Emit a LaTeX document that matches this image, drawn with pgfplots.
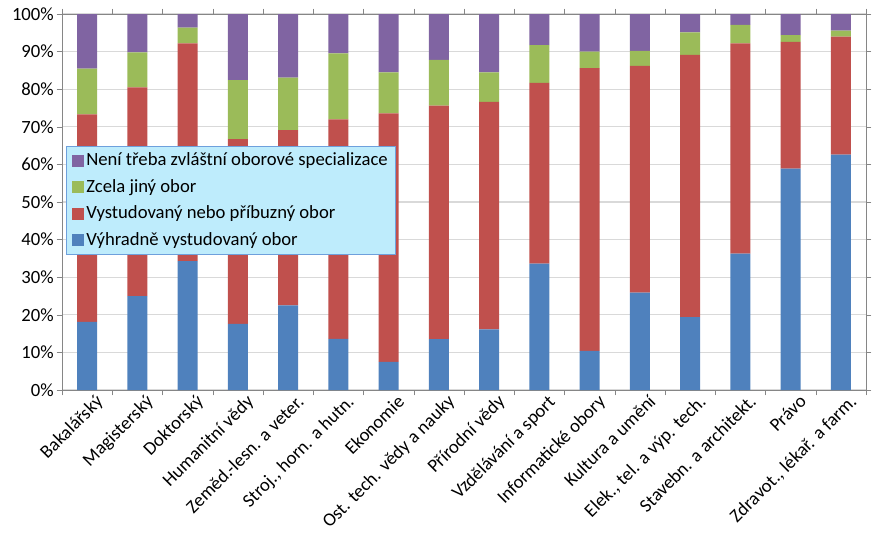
\documentclass[border=0pt]{standalone}
\usepackage{pgfplots}
\usepackage{pgfplotstable}
\pgfplotsset{compat=1.18}
\usepackage{fontspec}
\setmainfont{Carlito}
\definecolor{cblue}{RGB}{79,129,189}
\definecolor{cred}{RGB}{192,80,77}
\definecolor{cgreen}{RGB}{155,187,89}
\definecolor{cpurple}{RGB}{128,100,162}
\definecolor{legfill}{RGB}{190,236,252}
\definecolor{legdraw}{RGB}{110,160,220}
\definecolor{axgray}{RGB}{134,134,134}
\pgfplotstableread{
x a b c d
0 18.1 55.2 12.2 14.5
1 25.0 55.5 9.3 10.2
2 34.3 57.9 4.2 3.6
3 17.6 49.1 15.7 17.6
4 22.5 46.6 14.0 16.9
5 13.6 58.4 17.5 10.5
6 7.5 66.1 10.9 15.5
7 13.5 62.1 12.2 12.2
8 16.1 60.5 7.9 15.5
9 33.6 48.1 10.0 8.3
10 10.4 75.2 4.4 10.0
11 25.9 60.3 4.0 9.8
12 19.4 69.7 6.0 4.9
13 36.3 55.9 4.9 2.9
14 58.9 33.7 1.8 5.6
15 62.6 31.4 1.6 4.4
}\data
\begin{document}
\fontsize{14}{16}\selectfont
\begin{tikzpicture}
\useasboundingbox (-46.5pt,-120.75pt) rectangle (609pt,292.5pt);
\begin{axis}[
  at={(0,0)}, anchor=south west,
  scale only axis, width=603pt, height=282pt,
  ybar stacked, bar width=15pt,
  xmin=-0.5, xmax=15.5, ymin=0, ymax=100,
  axis line style={axgray},
  font=\fontsize{14}{16}\selectfont,
  /pgf/number format/assume math mode=true,
  ytick={0,10,...,100},
  yticklabel={\pgfmathprintnumber{\tick}\%},
  ymajorgrids, grid style={draw=black!15, line width=0.8pt},
  y tick style={draw=axgray}, tick align=outside, major tick length=4pt,
  y tick label style={inner sep=2pt},
  xtick={0,...,15},
  xticklabels={Bakalářský,Magisterský,Doktorský,Humanitní vědy,Zeměd.-lesn. a veter.,{Stroj., horn. a hutn.},Ekonomie,Ost. tech. vědy a nauky,Přírodní vědy,Vzdělávání a sport,Informatické obory,Kultura a umění,{Elek., tel. a výp. tech.},Stavebn. a architekt.,Právo,{Zdravot., lékař. a farm.}},
  x tick style={draw=none},
  x tick label style={rotate=45, anchor=north east, inner sep=1pt, xshift=6pt, yshift=-2pt},
  extra x ticks={-0.5,0.5,...,15.5},
  extra x tick labels={},
  extra x tick style={x tick style={draw=axgray}, xmajorgrids=false},
  reverse legend,
  legend style={at={(0.005,0.649)}, anchor=north west, fill=legfill, draw=legdraw,
    font=\fontsize{14}{16}\selectfont, row sep=4pt, inner xsep=4pt, inner ysep=3pt},
  legend cell align=left,
  legend image code/.code={\fill[#1] (0pt,-4.5pt) rectangle (9pt,4.5pt);},
]
\addplot[fill=cblue, draw=none] table[x=x,y=a]{\data};
\addplot[fill=cred, draw=none] table[x=x,y=b]{\data};
\addplot[fill=cgreen, draw=none] table[x=x,y=c]{\data};
\addplot[fill=cpurple, draw=none] table[x=x,y=d]{\data};
\legend{Výhradně vystudovaný obor,Vystudovaný nebo příbuzný obor,Zcela jiný obor,Není třeba zvláštní oborové specializace}
\end{axis}
\end{tikzpicture}
\end{document}
